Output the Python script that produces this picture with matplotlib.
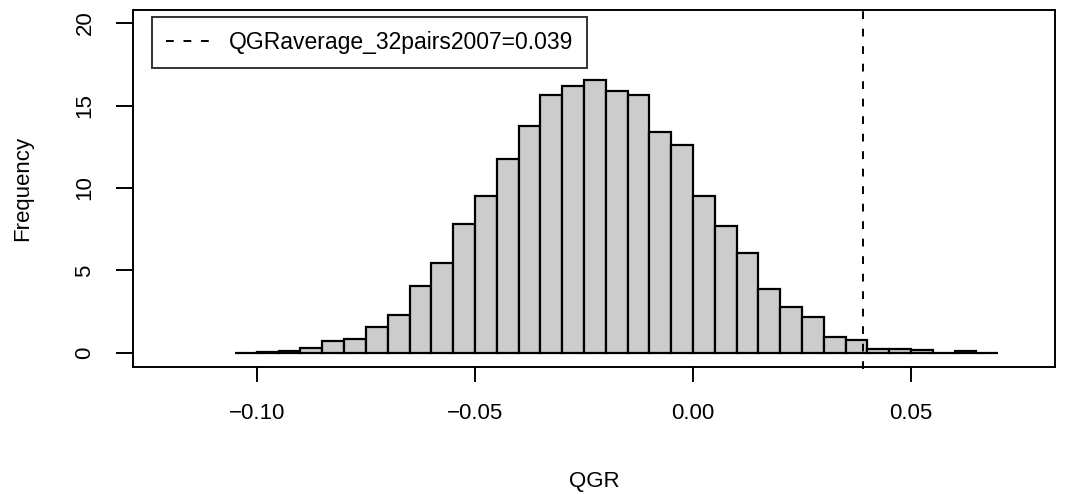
import matplotlib
matplotlib.use('Agg')
import matplotlib.pyplot as plt
import numpy as np

plt.rcParams['font.family'] = ['Liberation Sans', 'DejaVu Sans']

# histogram bins (width 0.005) and bar heights
bin_edges = np.round(np.arange(-0.105, 0.0701, 0.005), 3)
heights = [0.02, 0.03, 0.10, 0.30, 0.70, 0.83, 1.60, 2.33, 4.04, 5.43,
           7.82, 9.54, 11.76, 13.78, 15.64, 16.18, 16.55, 15.85, 15.64, 13.42,
           12.63, 9.54, 7.72, 6.06, 3.88, 2.80, 2.18, 0.95, 0.79, 0.26,
           0.26, 0.16, 0.02, 0.10, 0.01]
qgr_observed = 0.039
legend_label = 'QGRaverage_32pairs2007=0.039'
x_ticks = [-0.10, -0.05, 0.00, 0.05]
x_tick_labels = ['\u22120.10', '\u22120.05', '0.00', '0.05']
y_ticks = [0, 5, 10, 15, 20]

fig = plt.figure(figsize=(10.68, 4.94), dpi=100)
ax = fig.add_axes([133 / 1068, 1 - 367 / 494, (1055 - 133) / 1068, (367 - 10) / 494])

lefts = bin_edges[:-1]
widths = np.diff(bin_edges)
ax.bar(lefts, heights, width=widths, align='edge', color='#cccccc',
       edgecolor='black', linewidth=1.6, zorder=2)

ax.plot([qgr_observed, qgr_observed], [-1.0, 20.8], color='black',
        linestyle=(0, (4, 5)), linewidth=1.4, clip_on=False, zorder=3,
        label=legend_label)

ax.set_xlim(-0.1284, 0.0830)
ax.set_ylim(-0.85, 20.79)
for s in ax.spines.values():
    s.set_linewidth(1.4)

ax.set_xticks(x_ticks)
ax.set_xticklabels(x_tick_labels)
ax.set_yticks(y_ticks)
ax.set_yticklabels([str(v) for v in y_ticks], rotation=90, va='center')
ax.tick_params(axis='x', length=11, width=1.4, pad=15, labelsize=16)
ax.tick_params(axis='y', length=12, width=1.4, pad=15, labelsize=16)

ax.set_xlabel('QGR', fontsize=16, labelpad=34)
ax.set_ylabel('Frequency', fontsize=16, labelpad=30)

leg = ax.legend(loc='upper left', bbox_to_anchor=(19 / 922, 1 - 7 / 357),
                fontsize=16.5, frameon=True, fancybox=False, borderpad=0.6,
                handlelength=1.9, handletextpad=0.85, borderaxespad=0)
leg.get_frame().set_edgecolor('black')
leg.get_frame().set_linewidth(1.4)

fig.savefig('out.png', dpi=100)
